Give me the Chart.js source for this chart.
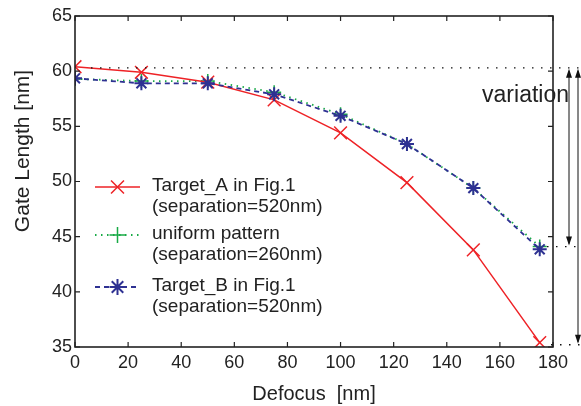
<!DOCTYPE html>
<html>
<head>
<meta charset="utf-8">
<script src="https://cdn.jsdelivr.net/npm/chart.js@4.4.0/dist/chart.umd.min.js"></script>
<style>
  html, body { margin: 0; padding: 0; background: #fff; }
  #wrap { width: 581px; height: 406px; }
</style>
</head>
<body>
<div id="wrap"><canvas id="myChart" width="581" height="406"></canvas></div>
<script>
// data
var defocus  = [0, 25, 50, 75, 100, 125, 150, 175];
var targetA  = [60.4, 59.9, 59.0, 57.4, 54.4, 49.9, 43.8, 35.4];
var uniform  = [59.3, 59.1, 59.1, 58.1, 56.1, 53.4, 49.4, 44.1];
var targetB  = [59.35, 58.9, 58.9, 57.9, 55.95, 53.4, 49.4, 43.85];

var seriesNames = [
    ['Target_A in Fig.1', '(separation=520nm)'],
    ['uniform pattern', '(separation=260nm)'],
    ['Target_B in Fig.1', '(separation=520nm)']
];
var variationLevels = [60.3, 44.1, 35.2];
var variationText = 'variation';
var yTitle = 'Gate Length [nm]';

var FONT = "'Liberation Sans', Arial, Helvetica, sans-serif";
var RED = 'rgb(238, 34, 38)';
var GREEN = 'rgb(24, 170, 70)';
var BLUE = 'rgb(46, 49, 146)';
var INK = '#222';

function pts(ys) {
    return defocus.map(function (x, i) { return { x: x, y: ys[i] }; });
}

// little marker painter, used for the legend
function marker(ctx, style, x, y, r) {
    ctx.beginPath();
    if (style === 'crossRot' || style === 'star') {
        var d = r * 0.72;
        ctx.moveTo(x - d, y - d); ctx.lineTo(x + d, y + d);
        ctx.moveTo(x + d, y - d); ctx.lineTo(x - d, y + d);
    }
    if (style === 'cross' || style === 'star') {
        ctx.moveTo(x, y - r); ctx.lineTo(x, y + r);
        ctx.moveTo(x - r, y); ctx.lineTo(x + r, y);
    }
    ctx.stroke();
}

// box, inward ticks, y title, variation lines + arrows, legend
var decor = {
    id: 'decor',
    afterDraw: function (chart) {
        var ctx = chart.ctx;
        var a = chart.chartArea;
        var xs = chart.scales.x, ys = chart.scales.y;
        ctx.save();

        // frame
        ctx.strokeStyle = INK;
        ctx.lineWidth = 1.6;
        ctx.strokeRect(a.left, a.top, a.right - a.left, a.bottom - a.top);

        // inward ticks
        ctx.lineWidth = 1.2;
        ctx.beginPath();
        xs.ticks.forEach(function (t) {
            var px = xs.getPixelForValue(t.value);
            ctx.moveTo(px, a.bottom); ctx.lineTo(px, a.bottom - 5);
            ctx.moveTo(px, a.top); ctx.lineTo(px, a.top + 5);
        });
        ys.ticks.forEach(function (t) {
            var py = ys.getPixelForValue(t.value);
            ctx.moveTo(a.left, py); ctx.lineTo(a.left + 5, py);
            ctx.moveTo(a.right, py); ctx.lineTo(a.right - 5, py);
        });
        ctx.stroke();

        // y axis title (sits above the middle in the original)
        ctx.save();
        ctx.translate(23, 151);
        ctx.rotate(-Math.PI / 2);
        ctx.fillStyle = INK;
        ctx.font = '21px ' + FONT;
        ctx.textAlign = 'center';
        ctx.textBaseline = 'middle';
        ctx.fillText(yTitle, 0, 0);
        ctx.restore();

        // dotted reference levels
        var W = chart.width;
        var yTop = ys.getPixelForValue(variationLevels[0]);
        var yMid = ys.getPixelForValue(variationLevels[1]);
        var yBot = ys.getPixelForValue(variationLevels[2]);
        ctx.strokeStyle = '#111';
        ctx.lineWidth = 1.4;
        ctx.setLineDash([1.5, 7.5]);
        ctx.beginPath();
        ctx.moveTo(a.left + 16, yTop); ctx.lineTo(W, yTop);
        ctx.moveTo(a.right - 6, yMid); ctx.lineTo(W, yMid);
        ctx.moveTo(a.right - 2, yBot); ctx.lineTo(W, yBot);
        ctx.stroke();
        ctx.setLineDash([]);

        // double arrows
        function arrow(x, y1, y2) {
            ctx.lineWidth = 1;
            ctx.beginPath();
            ctx.moveTo(x, y1 + 2); ctx.lineTo(x, y2 - 2);
            ctx.stroke();
            ctx.beginPath();
            ctx.moveTo(x, y1); ctx.lineTo(x - 3, y1 + 9); ctx.lineTo(x + 3, y1 + 9); ctx.closePath();
            ctx.moveTo(x, y2); ctx.lineTo(x - 3, y2 - 9); ctx.lineTo(x + 3, y2 - 9); ctx.closePath();
            ctx.fill();
        }
        ctx.fillStyle = '#111';
        arrow(a.right + 16, yTop + 1, yMid - 1);
        arrow(a.right + 25, yTop + 1, yBot - 1);

        // label
        ctx.fillStyle = INK;
        ctx.font = '23px ' + FONT;
        ctx.textAlign = 'right';
        ctx.textBaseline = 'alphabetic';
        ctx.fillText(variationText, a.right + 16, 102);

        // legend
        var ds = chart.data.datasets;
        var lx0 = 95, lx1 = 140, tx = 152;
        var rows = [187, 235, 287];
        ctx.font = '19px ' + FONT;
        ctx.textAlign = 'left';
        ctx.textBaseline = 'middle';
        for (var i = 0; i < 3; i++) {
            var d = ds[i];
            var y = rows[i];
            ctx.strokeStyle = d.borderColor;
            ctx.lineWidth = d.borderWidth;
            ctx.setLineDash(d.borderDash || []);
            ctx.beginPath();
            ctx.moveTo(lx0, y); ctx.lineTo(lx1, y);
            ctx.stroke();
            ctx.setLineDash([]);
            ctx.lineWidth = d.pointBorderWidth;
            marker(ctx, d.pointStyle, (lx0 + lx1) / 2, y, i === 0 ? 9 : 8);
            ctx.fillStyle = INK;
            ctx.fillText(seriesNames[i][0], tx, y - 1);
            ctx.fillText(seriesNames[i][1], tx, y + 20);
        }
        ctx.restore();
    }
};

const ctx = document.getElementById('myChart');
const data = {
    datasets: [{
        label: seriesNames[0].join(' '),
        data: pts(targetA),
        borderColor: RED,
        backgroundColor: RED,
        borderWidth: 1.5,
        pointStyle: 'crossRot',
        pointRadius: 9,
        pointBorderWidth: 1.5,
        pointBorderColor: RED,
        order: 2
    }, {
        label: seriesNames[1].join(' '),
        data: pts(uniform),
        borderColor: GREEN,
        backgroundColor: GREEN,
        borderWidth: 1.8,
        borderDash: [1.5, 4.5],
        pointStyle: 'cross',
        pointRadius: 7,
        pointBorderWidth: 1.5,
        pointBorderColor: GREEN,
        order: 3
    }, {
        label: seriesNames[2].join(' '),
        data: pts(targetB),
        borderColor: BLUE,
        backgroundColor: BLUE,
        borderWidth: 1.8,
        borderDash: [5, 4],
        pointStyle: 'star',
        pointRadius: 7,
        pointBorderWidth: 2,
        pointBorderColor: BLUE,
        order: 1
    }]
};

const config = {
    type: 'line',
    data: data,
    plugins: [decor],
    options: {
        responsive: false,
        animation: false,
        layout: { padding: { top: 16, right: 28, left: 0, bottom: 0 } },
        plugins: { legend: { display: false }, tooltip: { enabled: false } },
        scales: {
            x: {
                type: 'linear',
                min: 0, max: 180,
                ticks: { stepSize: 20, color: INK, font: { family: FONT, size: 18 }, padding: 5, maxRotation: 0 },
                grid: { display: false, drawTicks: false },
                border: { display: false },
                title: { display: true, text: 'Defocus  [nm]', color: INK, font: { family: FONT, size: 20 }, padding: { top: 0, bottom: 0 } },
                afterFit: function (s) { s.height = 59; }
            },
            y: {
                min: 35, max: 65,
                ticks: { stepSize: 5, color: INK, font: { family: FONT, size: 18 }, padding: 3 },
                grid: { display: false, drawTicks: false },
                border: { display: false },
                title: { display: false },
                afterFit: function (s) { s.width = 75; }
            }
        }
    }
};

var chart = new Chart(ctx, config);
</script>
</body>
</html>
